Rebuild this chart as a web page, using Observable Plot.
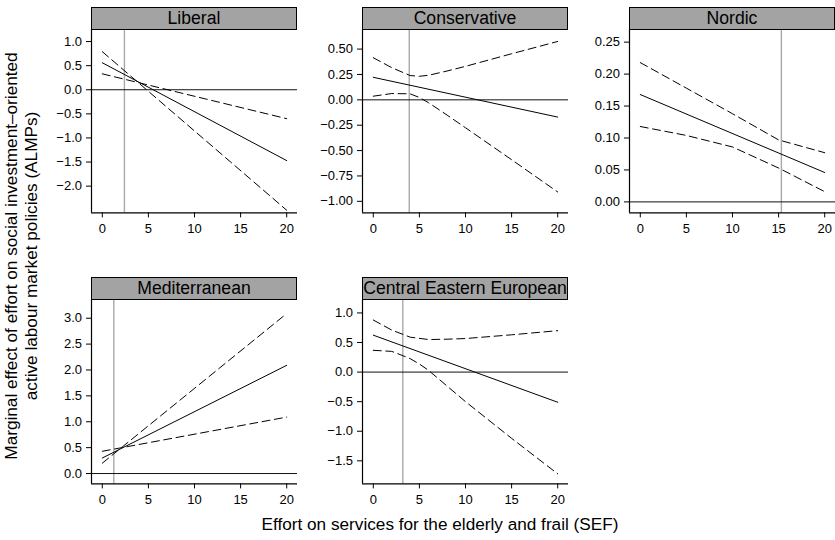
<!DOCTYPE html>
<html>
<head>
<meta charset="utf-8">
<script src="https://cdn.jsdelivr.net/npm/d3@7"></script>
<script src="https://cdn.jsdelivr.net/npm/@observablehq/plot@0.6"></script>
<style>
  html, body { margin: 0; padding: 0; background: #fff; }
  #root { position: relative; width: 835px; height: 540px; background: #fff; font-family: "Liberation Sans", Arial, Helvetica, sans-serif; overflow: hidden; }
  .hdr { position: absolute; box-sizing: border-box; border: 1px solid #000; background: #a3a3a3; color: #000; text-align: center; font-size: 17.6px; white-space: nowrap; overflow: visible; }
  .panel { position: absolute; }
  .title { position: absolute; color: #000; font-size: 17.2px; white-space: nowrap; }
</style>
</head>
<body>
<div id="root"></div>
<script>
// ---- Data ----
const panelNames = ["Liberal", "Conservative", "Nordic", "Mediterranean", "Central Eastern European"];
const xTicks = [0, 5, 10, 15, 20];

// Liberal
const liberalEstX = [0, 20];
const liberalEst = [0.56, -1.47];
const liberalBandX = [0, 20];
const liberalBand1 = [0.79, -2.50];
const liberalBand2 = [0.33, -0.60];
const liberalMean = 2.4;
const liberalYTicks = [1.0, 0.5, 0.0, -0.5, -1.0, -1.5, -2.0];

// Conservative
const conservativeEstX = [0, 20];
const conservativeEst = [0.222, -0.170];
const conservativeBandX = [0, 2, 4, 5, 6, 8, 10, 15, 20];
const conservativeBand1 = [0.415, 0.317, 0.239, 0.232, 0.242, 0.284, 0.330, 0.454, 0.575];
const conservativeBand2 = [0.036, 0.062, 0.059, 0.023, -0.029, -0.150, -0.275, -0.590, -0.908];
const conservativeMean = 3.9;
const conservativeYTicks = [0.5, 0.25, 0.0, -0.25, -0.5, -0.75, -1.0];

// Nordic
const nordicEstX = [0, 20];
const nordicEst = [0.168, 0.046];
const nordicBandX = [0, 5, 10, 15, 20];
const nordicBand1 = [0.218, 0.178, 0.138, 0.097, 0.077];
const nordicBand2 = [0.118, 0.104, 0.086, 0.053, 0.016];
const nordicMean = 15.3;
const nordicYTicks = [0.25, 0.20, 0.15, 0.10, 0.05, 0.00];

// Mediterranean
const mediterraneanEstX = [0, 20];
const mediterraneanEst = [0.30, 2.09];
const mediterraneanBandX = [0, 20];
const mediterraneanBand1 = [0.20, 3.09];
const mediterraneanBand2 = [0.43, 1.09];
const mediterraneanMean = 1.25;
const mediterraneanYTicks = [3.0, 2.5, 2.0, 1.5, 1.0, 0.5, 0.0];

// Central Eastern European
const ceeEstX = [0, 20];
const ceeEst = [0.624, -0.51];
const ceeBandX = [0, 2, 4, 6, 8, 10, 15, 20];
const ceeBand1 = [0.88, 0.71, 0.59, 0.55, 0.556, 0.567, 0.63, 0.70];
const ceeBand2X = [0, 2, 3, 4, 5, 6, 10, 15, 20];
const ceeBand2 = [0.368, 0.35, 0.29, 0.227, 0.136, 0.028, -0.50, -1.12, -1.72];
const ceeMean = 3.2;
const ceeYTicks = [1.0, 0.5, 0.0, -0.5, -1.0, -1.5];

const yTitleLines = ["Marginal effect of effort on social investment\u2013oriented", "active labour market policies (ALMPs)"];
const xTitle = "Effort on services for the elderly and frail (SEF)";

// ---- Layout ----
const PW = 206, PH = 183.4, HDR_H = 22.6;
const colLeft = [91, 362, 629];
const rowTop = [29.3, 300];
const xDomain = [-1.17, 21.17];
const ML = 50, MB = 34;
const FONT = '"Liberation Sans", Arial, Helvetica, sans-serif';

const pts = (xs, ys) => xs.map((x, i) => ({x, y: ys[i]}));

const panels = [
  {name: panelNames[0], col: 0, row: 0, yDomain: [-2.555, 1.25], yTicks: liberalYTicks, fmt: d3.format(".1f"),
   est: pts(liberalEstX, liberalEst), b1: pts(liberalBandX, liberalBand1), b2: pts(liberalBandX, liberalBand2), mean: liberalMean},
  {name: panelNames[1], col: 1, row: 0, yDomain: [-1.114, 0.693], yTicks: conservativeYTicks, fmt: d3.format(".2f"),
   est: pts(conservativeEstX, conservativeEst), b1: pts(conservativeBandX, conservativeBand1), b2: pts(conservativeBandX, conservativeBand2), mean: conservativeMean},
  {name: panelNames[2], col: 2, row: 0, yDomain: [-0.0172, 0.2698], yTicks: nordicYTicks, fmt: d3.format(".2f"),
   est: pts(nordicEstX, nordicEst), b1: pts(nordicBandX, nordicBand1), b2: pts(nordicBandX, nordicBand2), mean: nordicMean},
  {name: panelNames[3], col: 0, row: 1, yDomain: [-0.20, 3.342], yTicks: mediterraneanYTicks, fmt: d3.format(".1f"),
   est: pts(mediterraneanEstX, mediterraneanEst), b1: pts(mediterraneanBandX, mediterraneanBand1), b2: pts(mediterraneanBandX, mediterraneanBand2), mean: mediterraneanMean},
  {name: panelNames[4], col: 1, row: 1, yDomain: [-1.89, 1.21], yTicks: ceeYTicks, fmt: d3.format(".1f"),
   est: pts(ceeEstX, ceeEst), b1: pts(ceeBandX, ceeBand1), b2: pts(ceeBand2X, ceeBand2), mean: ceeMean}
];

const root = document.getElementById("root");

for (const p of panels) {
  const left = colLeft[p.col], top = rowTop[p.row];
  const chart = Plot.plot({
    width: ML + PW,
    height: PH + MB,
    marginLeft: ML, marginRight: 0, marginTop: 0, marginBottom: MB,
    style: {fontFamily: FONT, fontSize: "13px", color: "#000", background: "transparent", overflow: "visible"},
    x: {domain: xDomain, ticks: xTicks, tickSize: 5, tickPadding: 6, label: null, tickFormat: d3.format("d")},
    y: {domain: p.yDomain, ticks: p.yTicks, tickSize: 5, tickPadding: 4.5, label: null, tickFormat: p.fmt},
    marks: [
      Plot.ruleX([p.mean], {stroke: "#a8a8a8", strokeWidth: 1.4}),
      Plot.ruleY([0], {stroke: "#111", strokeWidth: 1}),
      Plot.line(p.b1, {x: "x", y: "y", stroke: "#000", strokeWidth: 1, strokeDasharray: "8,4.5"}),
      Plot.line(p.b2, {x: "x", y: "y", stroke: "#000", strokeWidth: 1, strokeDasharray: "8,4.5"}),
      Plot.line(p.est, {x: "x", y: "y", stroke: "#000", strokeWidth: 1}),
      Plot.ruleX([xDomain[0]], {stroke: "#000", strokeWidth: 1.2}),
      Plot.ruleY([p.yDomain[0]], {stroke: "#000", strokeWidth: 1.2})
    ]
  });
  chart.classList.add("panel");
  chart.style.left = (left - ML) + "px";
  chart.style.top = top + "px";
  root.appendChild(chart);

  const hdr = document.createElement("div");
  hdr.className = "hdr";
  hdr.textContent = p.name;
  hdr.style.left = left + "px";
  hdr.style.top = (top - HDR_H) + "px";
  hdr.style.width = PW + "px";
  hdr.style.height = (HDR_H + 0.5) + "px";
  hdr.style.lineHeight = (HDR_H - 2) + "px";
  root.appendChild(hdr);
}

// Axis titles
const xt = document.createElement("div");
xt.className = "title";
xt.textContent = xTitle;
xt.style.left = "440px";
xt.style.top = "524px";
xt.style.transform = "translate(-50%, -50%)";
root.appendChild(xt);

const ytWrap = document.createElement("div");
ytWrap.className = "title";
ytWrap.style.left = "21px";
ytWrap.style.top = "256px";
ytWrap.style.textAlign = "center";
ytWrap.style.lineHeight = "19.5px";
ytWrap.style.transform = "translate(-50%, -50%) rotate(-90deg)";
ytWrap.innerHTML = yTitleLines.map(s => "<div>" + s + "</div>").join("");
root.appendChild(ytWrap);
</script>
</body>
</html>
